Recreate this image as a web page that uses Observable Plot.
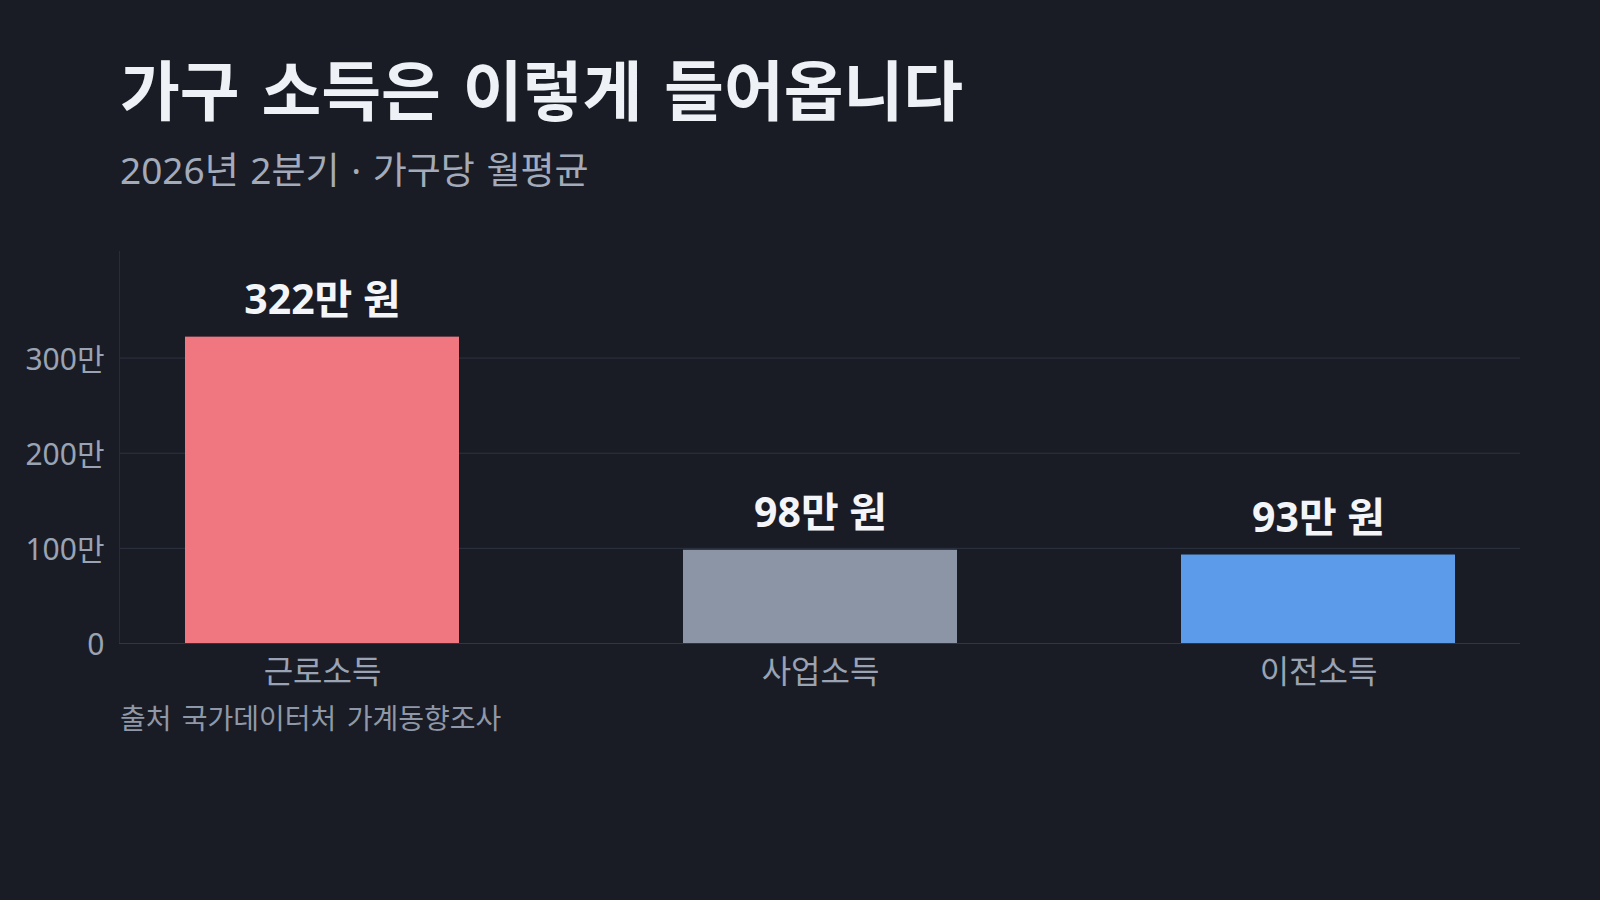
<!DOCTYPE html>
<html>
<head>
<meta charset="utf-8">
<script src="https://cdn.jsdelivr.net/npm/d3@7"></script>
<script src="https://cdn.jsdelivr.net/npm/@observablehq/plot@0.6"></script>
<style>
  html, body { margin: 0; padding: 0; background: #191c25; width: 1600px; height: 900px; overflow: hidden;
    font-family: "Noto Sans", "Noto Sans CJK KR", sans-serif; }
  .t { position: absolute; left: 120px; line-height: 1; white-space: nowrap; }
  #title { top: 58px; font-size: 65px; font-weight: 700; color: #eef1f6; word-spacing: 5px; }
  #subtitle { top: 151px; font-size: 37px; color: #a3abba; word-spacing: 2px; }
  #caption { top: 704px; font-size: 28px; color: #8f98a8; word-spacing: 3px; }
  #chart { position: absolute; left: 0; top: 220px; }
  #chart svg text.vlabel { word-spacing: 4px; }
</style>
</head>
<body>
<div id="title" class="t">가구 소득은 이렇게 들어옵니다</div>
<div id="subtitle" class="t">2026년 2분기 · 가구당 월평균</div>
<div id="chart"></div>
<div id="caption" class="t">출처 국가데이터처 가계동향조사</div>
<script>
const categories = ["근로소득", "사업소득", "이전소득"];
const values = [322, 98, 93];
const colors = ["#f07680", "#8b95a6", "#5b9be9"];
const yTicks = [0, 100, 200, 300];
const yMax = 412;

const data = categories.map((c, i) => ({ category: c, value: values[i], color: colors[i] }));

const chart = Plot.plot({
  width: 1600,
  height: 480,
  marginLeft: 119,
  marginRight: 80,
  marginTop: 31,
  marginBottom: 57,
  style: { background: "transparent", color: "#9aa3b3", fontFamily: "'Noto Sans', 'Noto Sans CJK KR', sans-serif" },
  x: { domain: categories, paddingInner: 0.45, paddingOuter: 0.13, label: null },
  y: { domain: [0, yMax], label: null },
  color: { type: "identity" },
  marks: [
    Plot.gridY(yTicks.filter(d => d > 0), { stroke: "#2e3341", strokeOpacity: 1 }),
    Plot.frame({ anchor: "left", stroke: "#282c38" }),
    Plot.ruleY([0], { stroke: "#313644" }),
    Plot.barY(data, { x: "category", y: "value", fill: "color" }),
    Plot.text(data, {
      x: "category", y: "value", text: d => `${d.value}만 원`,
      dy: -36, fill: "#f3f5f9", fontSize: 41, fontWeight: 700,
      stroke: "#191c25", strokeWidth: 3, className: "vlabel"
    }),
    Plot.axisY({ ticks: yTicks, tickSize: 0, tickPadding: 15, fontSize: 30, dy: 2,
      tickFormat: d => d === 0 ? "0" : `${d}만`, label: null }),
    Plot.axisX({ tickSize: 0, tickPadding: 17, fontSize: 32, label: null })
  ]
});
document.getElementById("chart").appendChild(chart);
</script>
</body>
</html>
